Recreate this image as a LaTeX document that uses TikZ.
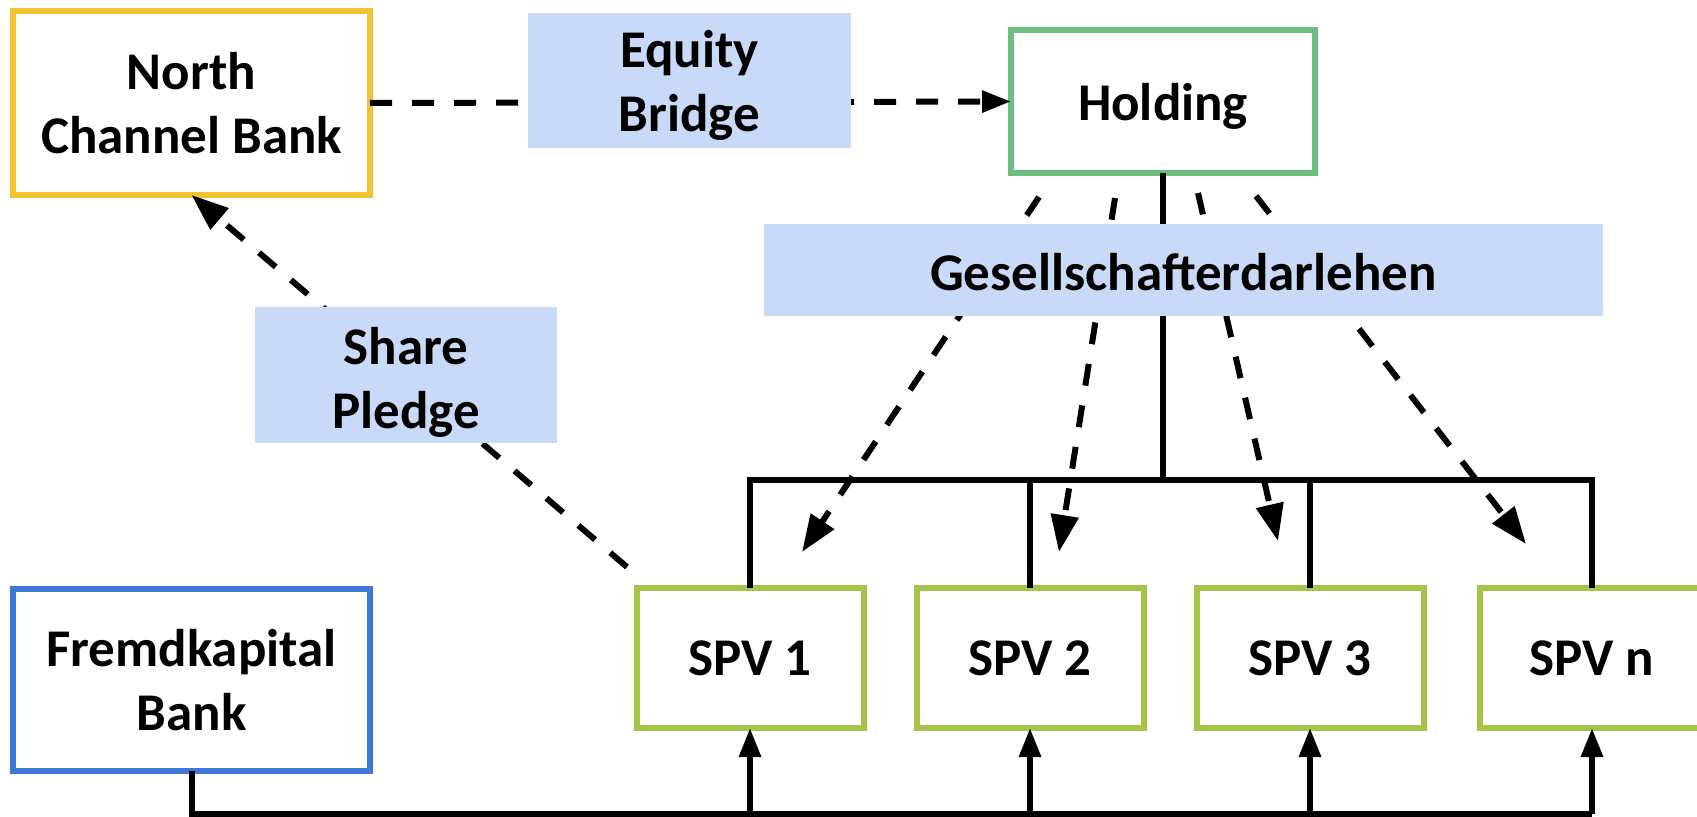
\documentclass[tikz,border=0pt]{standalone}
\usepackage{fontspec}
\setmainfont{Carlito}
\usetikzlibrary{arrows.meta}
\definecolor{cyellow}{HTML}{F1C232}
\definecolor{cgreen}{HTML}{6CBF7E}
\definecolor{clime}{HTML}{A6C44A}
\definecolor{cblue}{HTML}{3C78D8}
\definecolor{clabel}{HTML}{C9DAF8}
\begin{document}
\begin{tikzpicture}[x=0.5pt,y=-0.5pt,
  every node/.style={font=\fontsize{26.5}{32}\selectfont\bfseries, align=center, inner sep=0pt, outer sep=0pt},
  entity/.style={draw, line width=3pt, fill=white, rectangle},
  lbl/.style={fill=clabel, rectangle},
  solidline/.style={line width=3pt},
  bigtip/.style={-{Triangle[length=18.5pt,width=13.5pt]}},
  smalltip/.style={-{Triangle[length=14.5pt,width=10.5pt]}},
  dashline/.style={line width=3pt, dash pattern=on 11pt off 10pt},
  uparrow/.style={line width=3pt, smalltip}]
\useasboundingbox (0,0) rectangle (1697,817);
% entities
\node[entity, draw=cyellow, minimum width=178.5pt, minimum height=92pt] (ncb) at (191.5,103) {North\\Channel Bank};
\node[entity, draw=cgreen, minimum width=152pt, minimum height=71.5pt, label={[yshift=-2.7pt]center:Holding}] (hold) at (1163,101.5) {};
\node[entity, draw=cblue, minimum width=178.5pt, minimum height=91pt] (fk) at (191.5,680) {Fremdkapital\\Bank};
\node[entity, draw=clime, minimum width=113.5pt, minimum height=70pt] (spv1) at (750,658) {SPV 1};
\node[entity, draw=clime, minimum width=113.5pt, minimum height=70pt] (spv2) at (1030,658) {SPV 2};
\node[entity, draw=clime, minimum width=113.5pt, minimum height=70pt] (spv3) at (1310,658) {SPV 3};
\node[entity, draw=clime, minimum width=112pt, minimum height=70pt] (spvn) at (1592,658) {SPV n};
% coordinates
\coordinate (bar) at (0,480);
\coordinate (bot) at (0,814);
\coordinate (sp0) at (627,567);
\coordinate (h1) at (1039,197);
\coordinate (h2) at (1115,198);
\coordinate (h3) at (1198,193);
\coordinate (h4) at (1256,196);
\coordinate (t1) at (802,552);
\coordinate (t2) at (1059,552);
\coordinate (t3) at (1278,541);
\coordinate (t4) at (1526,544);
% tree
\draw[solidline] (hold.south) -- (hold.south |- bar);
\draw[solidline] (spv1.north) -- (spv1.north |- bar) -- (spvn.north |- bar) -- (spvn.north);
\draw[solidline] (spv2.north) -- (spv2.north |- bar);
\draw[solidline] (spv3.north) -- (spv3.north |- bar);
% bottom
\draw[solidline] (fk.south) -- (fk.south |- bot) -- (spvn.south |- bot);
\draw[uparrow] (spv1.south |- bot) -- (spv1.south);
\draw[uparrow] (spv2.south |- bot) -- (spv2.south);
\draw[uparrow] (spv3.south |- bot) -- (spv3.south);
\draw[uparrow] (spvn.south |- bot) -- (spvn.south);
% dashed
\draw[dashline, smalltip] (ncb.east) -- (hold.west);
\draw[dashline, bigtip] (sp0) -- (ncb.south);
\draw[dashline, bigtip] (h1) -- (t1);
\draw[dashline, bigtip] (h2) -- (t2);
\draw[dashline, bigtip] (h3) -- (t3);
\draw[dashline, bigtip] (h4) -- (t4);
% labels
\node[lbl, minimum width=161.5pt, minimum height=67.5pt, label={[yshift=-2.7pt]center:{Equity\\Bridge}}] (eq) at (689.5,80.5) {};
\node[lbl, minimum width=419.5pt, minimum height=46pt, label={[yshift=-1pt]center:Gesellschafterdarlehen}] (gd) at (1183.5,270) {};
\node[lbl, minimum width=151pt, minimum height=68pt, label={[yshift=-3.5pt]center:{Share\\Pledge}}] (sp) at (406,375) {};
\end{tikzpicture}
\end{document}
